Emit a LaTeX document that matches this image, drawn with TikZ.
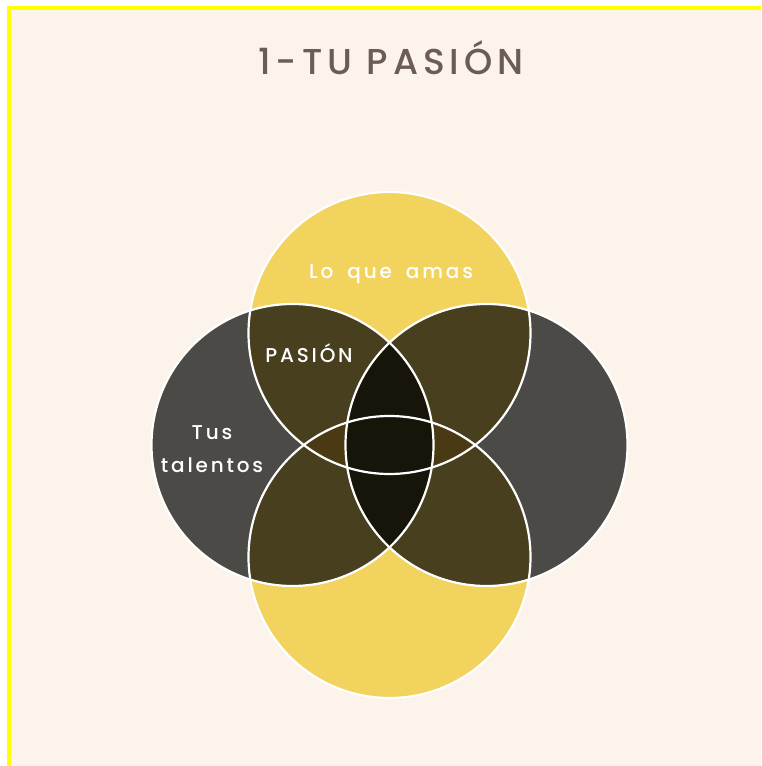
\documentclass[tikz,border=0pt]{standalone}
\usepackage{fontspec}
\setmainfont{Poppins}
\newfontfamily\handfont[LetterSpace=14,UprightFont={* Medium}]{Poppins}
\newfontfamily\titlefont[LetterSpace=14,UprightFont={* Medium}]{Poppins}
\usepackage{tikz}
\usetikzlibrary{positioning}
\definecolor{cream}{HTML}{FCF3EA}
\definecolor{frameyel}{HTML}{FFFF00}
\definecolor{sun}{HTML}{F1D35E}
\definecolor{slate}{HTML}{4B4A47}
\definecolor{olive}{HTML}{483F1F}
\definecolor{umber}{HTML}{4A3A13}
\definecolor{ink}{HTML}{17140A}
\definecolor{titlebrown}{HTML}{6B5B59}

\begin{document}
\begin{tikzpicture}[
  x=1pt,y=1pt,
  ring/.style={draw=white,line width=2.2pt},
  lbl/.style={text=white,align=center,
              font={\handfont\fontsize{20}{33}\selectfont\spaceskip=14pt\relax}},
  ttl/.style={text=titlebrown,font=\titlefont\fontsize{36}{40}\selectfont},
]
  % page and frame
  \useasboundingbox (0,0) rectangle (761,766);
  \fill[white] (0,0) rectangle (761,766);
  \fill[frameyel] (7,0) rectangle (761,760);
  \fill[cream] (11,0) rectangle (761,756);

  % circle centres
  \coordinate (ct) at (389.5,433);
  \coordinate (cb) at (389.5,209);
  \coordinate (cl) at (292.5,321);
  \coordinate (cr) at (486.5,321);

  \fill[sun] (ct) circle[radius=141];
  \fill[sun] (cb) circle[radius=141];
  \fill[slate] (cl) circle[radius=141];
  \fill[slate] (cr) circle[radius=141];

  % yellow/gray overlaps
  \begin{scope}
    \clip (ct) circle[radius=141];
    \fill[olive] (cl) circle[radius=141];
    \fill[olive] (cr) circle[radius=141];
  \end{scope}
  \begin{scope}
    \clip (cb) circle[radius=141];
    \fill[olive] (cl) circle[radius=141];
    \fill[olive] (cr) circle[radius=141];
  \end{scope}
  \begin{scope}
    \clip (ct) circle[radius=141];
    \clip (cb) circle[radius=141];
    \fill[umber] (cl) circle[radius=141];
    \fill[umber] (cr) circle[radius=141];
  \end{scope}
  \begin{scope}
    \clip (cl) circle[radius=141];
    \fill[ink] (cr) circle[radius=141];
  \end{scope}

  \draw[ring] (ct) circle[radius=141];
  \draw[ring] (cb) circle[radius=141];
  \draw[ring] (cl) circle[radius=141];
  \draw[ring] (cr) circle[radius=141];

  % texts
  \node[ttl,anchor=base] (title) at (391,691) {1-TU PASIÓN};
  \node[lbl,anchor=base] (love) at (391,487) {Lo que amas};
  \node[lbl,anchor=base] (pasion) at (309,403) {PASIÓN};
  \node[lbl] (talents) at (212,317) {Tus\\talentos};
\end{tikzpicture}
\end{document}
